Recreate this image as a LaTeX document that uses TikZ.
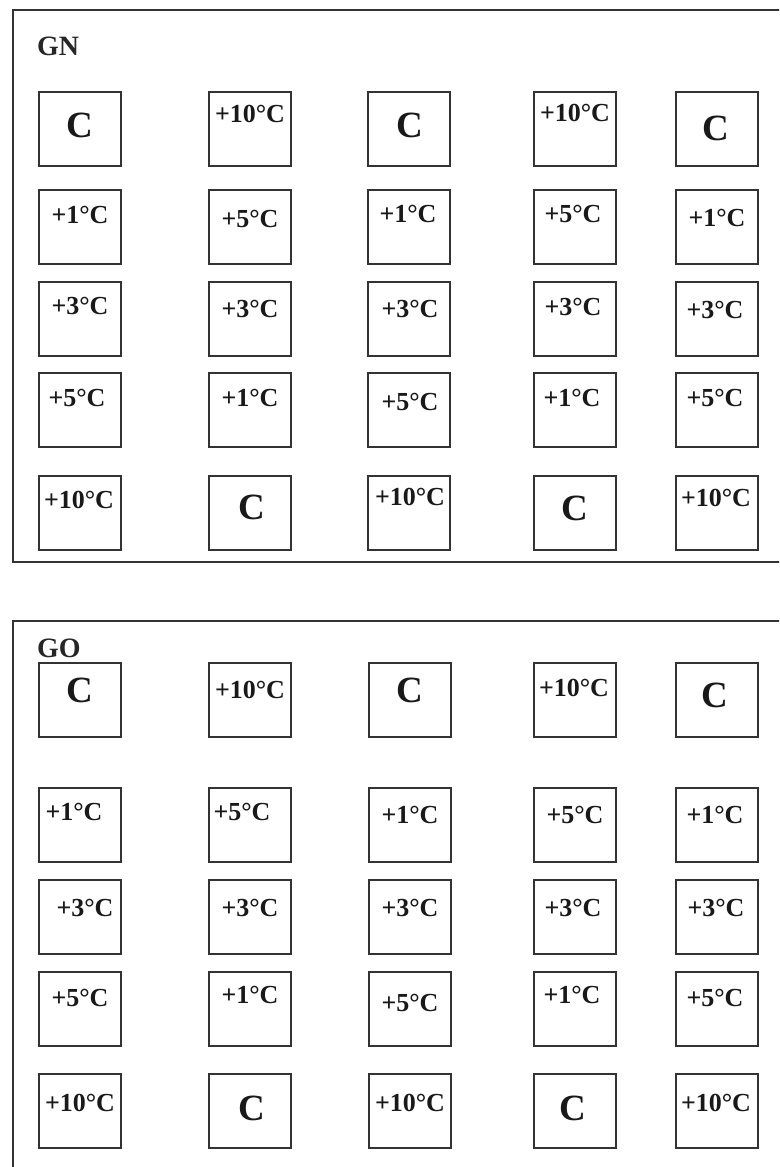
\documentclass[tikz,border=0pt]{standalone}
\usepackage{fontspec}
\setmainfont{Liberation Serif}
\begin{document}
\begin{tikzpicture}[x=1pt,y=-1pt,
  panel/.style={draw=black!80, line width=2pt},
  cell/.style={draw=black!80, line width=2pt, minimum width=82pt, minimum height=74pt, inner sep=0pt},
  title/.style={font=\bfseries\fontsize{28}{28}\selectfont, inner sep=0pt, text=black!85},
  temp/.style={font=\bfseries\fontsize{26}{26}\selectfont, inner sep=0pt, text=black!90},
  bigc/.style={font=\bfseries\fontsize{37}{37}\selectfont, inner sep=0pt, text=black!90}]
\clip (0,0) rectangle (779,1167);
\fill[white] (0,0) rectangle (779,1167);
% panels
\draw[panel] (13,10) rectangle (782,562);
\draw[panel] (13,621) rectangle (782,1180);
\node[title, anchor=west] (gn) at (37,46) {GN};
\node[title, anchor=west] (go) at (37,648) {GO};
% boxes
\foreach \r/\y in {1/129,2/227,3/318.5,4/410,5/513}{
  \foreach \c/\x in {1/80,2/250,3/409,4/574.5,5/716.5}{
    \node[cell] (n-\r-\c) at (\x,\y) {};
  }
}
\foreach \r/\y in {1/699.5,2/825,3/917,4/1009,5/1111}{
  \foreach \c/\x in {1/80,2/250,3/409.5,4/575,5/716.5}{
    \node[cell] (o-\r-\c) at (\x,\y) {};
  }
}
% GN texts
\foreach \n/\x/\y/\s/\t in {
  1-1/80/125/bigc/C, 1-2/250/114/temp/+10°C, 1-3/410/125/bigc/C, 1-4/575/113/temp/+10°C, 1-5/716/128/bigc/C,
  2-1/80/215/temp/+1°C, 2-2/250/219/temp/+5°C, 2-3/408/214/temp/+1°C, 2-4/573/214/temp/+5°C, 2-5/717/218/temp/+1°C,
  3-1/80/306/temp/+3°C, 3-2/250/309/temp/+3°C, 3-3/410/309/temp/+3°C, 3-4/573/307/temp/+3°C, 3-5/715/310/temp/+3°C,
  4-1/77/398/temp/+5°C, 4-2/250/398/temp/+1°C, 4-3/410/402/temp/+5°C, 4-4/572/398/temp/+1°C, 4-5/715/398/temp/+5°C,
  5-1/79/500/temp/+10°C, 5-2/252/507/bigc/C, 5-3/410/497/temp/+10°C, 5-4/575/508/bigc/C, 5-5/716/498/temp/+10°C}{
  \node[\s] (tn-\n) at (\x,\y) {\t};
}
% GO texts
\foreach \n/\x/\y/\s/\t in {
  1-1/80/690/bigc/C, 1-2/250/690/temp/+10°C, 1-3/410/690/bigc/C, 1-4/574/688/temp/+10°C, 1-5/715/695/bigc/C,
  2-1/74/812/temp/+1°C, 2-2/242/812/temp/+5°C, 2-3/410/815/temp/+1°C, 2-4/575/815/temp/+5°C, 2-5/715/815/temp/+1°C,
  3-1/85/908/temp/+3°C, 3-2/250/908/temp/+3°C, 3-3/410/908/temp/+3°C, 3-4/573/908/temp/+3°C, 3-5/716/908/temp/+3°C,
  4-1/80/998/temp/+5°C, 4-2/250/995/temp/+1°C, 4-3/410/1003/temp/+5°C, 4-4/572/995/temp/+1°C, 4-5/715/998/temp/+5°C,
  5-1/80/1103/temp/+10°C, 5-2/252/1108/bigc/C, 5-3/410/1103/temp/+10°C, 5-4/573/1108/bigc/C, 5-5/716/1103/temp/+10°C}{
  \node[\s] (to-\n) at (\x,\y) {\t};
}
\end{tikzpicture}
\end{document}
